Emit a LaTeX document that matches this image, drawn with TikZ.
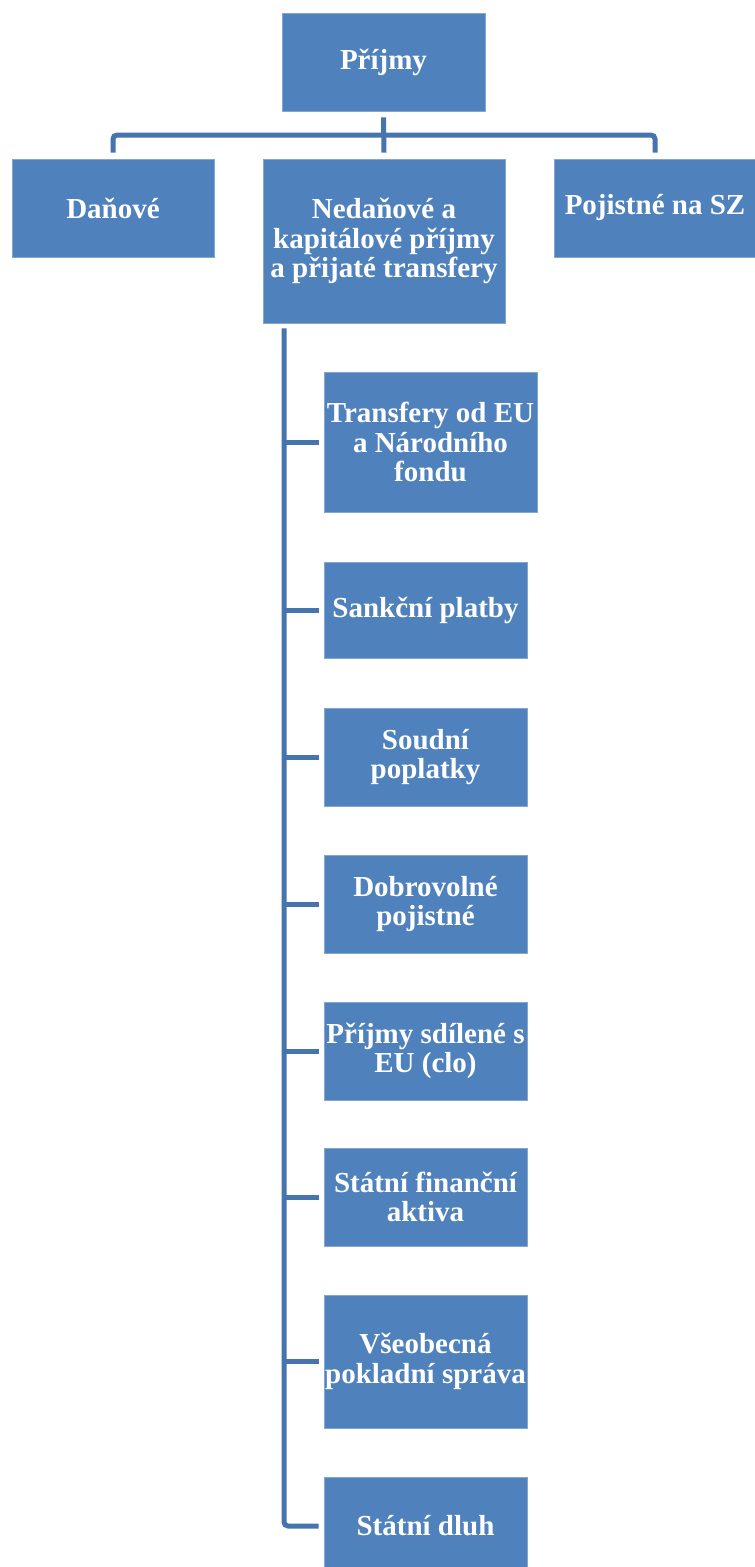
\documentclass[tikz,border=0pt]{standalone}
\usepackage{fontspec}
\setmainfont{Liberation Serif}
\usetikzlibrary{calc}
\definecolor{boxblue}{HTML}{4F81BD}
\definecolor{lineblue}{HTML}{4674AC}
\tikzset{
  box/.style={fill=boxblue, draw=boxblue!70!white, line width=0.8pt, text=white,
    font=\bfseries\fontsize{29}{29.5}\selectfont, align=center, inner sep=0pt,
    minimum width=203pt, minimum height=98pt},
  conn/.style={draw=lineblue, line width=5pt}
}

\begin{document}
\begin{tikzpicture}[x=1pt,y=-1pt]
\useasboundingbox (0,0) rectangle (755,1567);
\clip (0,0) rectangle (755,1567);
% top level
\node[box] (prijmy) at (383.5,62) {Příjmy};
\node[box, minimum width=202pt] (danove) at (113,208) {Daňové};
\node[box, minimum width=242pt, minimum height=164pt] (nedanove) at (384,241)
  {Nedaňové a\\kapitálové příjmy\\a přijaté transfery};
\node[box, minimum width=202pt] (pojistne) at (655,208) {Pojistné na SZ};
% items below
\node[box, minimum width=213pt, minimum height=140pt] (transfery) at (430.5,442)
  {Transfery od EU\\a Národního\\fondu};
\node[box, minimum height=96pt] (sankcni) at (425.5,610) {Sankční platby};
\node[box] (soudni) at (425.5,757) {Soudní\\poplatky};
\node[box] (dobrovolne) at (425.5,904) {Dobrovolné\\pojistné};
\node[box] (sdilene) at (425.5,1051) {Příjmy sdílené s\\EU (clo)};
\node[box] (aktiva) at (425.5,1197) {Státní finanční\\aktiva};
\node[box, minimum height=133pt] (sprava) at (425.5,1361.5) {Všeobecná\\pokladní správa};
\node[box] (dluh) at (425.5,1526) {Státní dluh};
% connectors
\coordinate (bus) at (384,135);
\draw[conn] ([yshift=-6pt]prijmy.south) -- ([yshift=6pt]nedanove.north);
\draw[conn, rounded corners=4pt] ([yshift=6pt]danove.north) |- (bus) -| ([yshift=6pt]pojistne.north);
\coordinate (trunk) at ([xshift=-100pt,yshift=-5pt]nedanove.south);
\draw[conn, rounded corners=4pt] (trunk) |- ([xshift=-5pt]dluh.west);
\foreach \n in {transfery,sankcni,soudni,dobrovolne,sdilene,aktiva,sprava}
  \draw[conn] (trunk |- \n.west) -- ([xshift=-5pt]\n.west);
\end{tikzpicture}
\end{document}
